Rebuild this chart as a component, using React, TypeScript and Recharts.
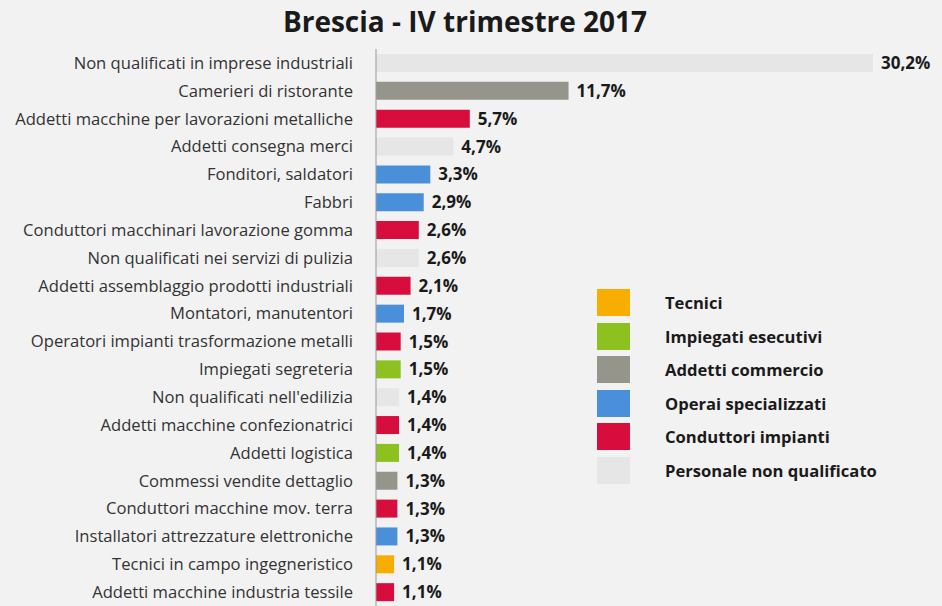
import React from "react";
import { BarChart, Bar, XAxis, YAxis, Cell, LabelList } from "recharts";

const categories = [
  "Non qualificati in imprese industriali",
  "Camerieri di ristorante",
  "Addetti macchine per lavorazioni metalliche",
  "Addetti consegna merci",
  "Fonditori, saldatori",
  "Fabbri",
  "Conduttori macchinari lavorazione gomma",
  "Non qualificati nei servizi di pulizia",
  "Addetti assemblaggio prodotti industriali",
  "Montatori, manutentori",
  "Operatori impianti trasformazione metalli",
  "Impiegati segreteria",
  "Non qualificati nell'edilizia",
  "Addetti macchine confezionatrici",
  "Addetti logistica",
  "Commessi vendite dettaglio",
  "Conduttori macchine mov. terra",
  "Installatori attrezzature elettroniche",
  "Tecnici in campo ingegneristico",
  "Addetti macchine industria tessile",
];

const values = [30.2, 11.7, 5.7, 4.7, 3.3, 2.9, 2.6, 2.6, 2.1, 1.7, 1.5, 1.5, 1.4, 1.4, 1.4, 1.3, 1.3, 1.3, 1.1, 1.1];

const groupOf = [5, 2, 4, 5, 3, 3, 4, 5, 4, 3, 4, 1, 5, 4, 1, 2, 4, 3, 0, 4];

const groups = [
  "Tecnici",
  "Impiegati esecutivi",
  "Addetti commercio",
  "Operai specializzati",
  "Conduttori impianti",
  "Personale non qualificato",
];

const groupColors = ["#F8AE00", "#8CC11F", "#96958B", "#4A8FDA", "#D70E3D", "#E6E6E6"];

const data = categories.map((name, i) => ({ name, value: values[i], group: groupOf[i] }));

const FONT = "'Open Sans', sans-serif";

export default function App() {
  return (
    <div style={{ position: "absolute", left: 0, top: 0, width: 942, height: 606, background: "#F2F2F2", overflow: "hidden" }}>
      <div style={{ position: "absolute", top: 2, left: 0, width: 930, textAlign: "center", fontFamily: FONT, fontWeight: 700, fontSize: 28, color: "#1a1a1a" }}>
        Brescia - IV trimestre 2017
      </div>
      <BarChart
        width={942}
        height={606}
        data={data}
        layout="vertical"
        margin={{ top: 49, right: 69, bottom: 0, left: 0 }}
        barCategoryGap={0}
      >
        <XAxis type="number" domain={[0, 30.2]} hide />
        <YAxis
          type="category"
          dataKey="name"
          width={376}
          tickLine={false}
          axisLine={{ stroke: "#999999" }}
          tickMargin={17}
          interval={0}
          tick={{ fontFamily: FONT, fontSize: 16.6, fill: "#333333" }}
        />
        <Bar dataKey="value" barSize={18} isAnimationActive={false}>
          {data.map((d, i) => (
            <Cell key={i} fill={groupColors[d.group]} />
          ))}
          <LabelList
            dataKey="value"
            position="right"
            offset={8}
            formatter={(v: number) => v.toFixed(1).replace(".", ",") + "%"}
            style={{ fontFamily: FONT, fontSize: 17, fontWeight: 700, fill: "#1a1a1a" }}
          />
        </Bar>
      </BarChart>
      <div style={{ position: "absolute", left: 597, top: 286, fontFamily: FONT }}>
        {groups.map((g, i) => (
          <div key={g} style={{ display: "flex", alignItems: "center", height: 33.5 }}>
            <div style={{ width: 33, height: 27, background: groupColors[i] }} />
            <div style={{ marginLeft: 35, fontSize: 16.6, fontWeight: 700, color: "#1a1a1a" }}>{g}</div>
          </div>
        ))}
      </div>
    </div>
  );
}
